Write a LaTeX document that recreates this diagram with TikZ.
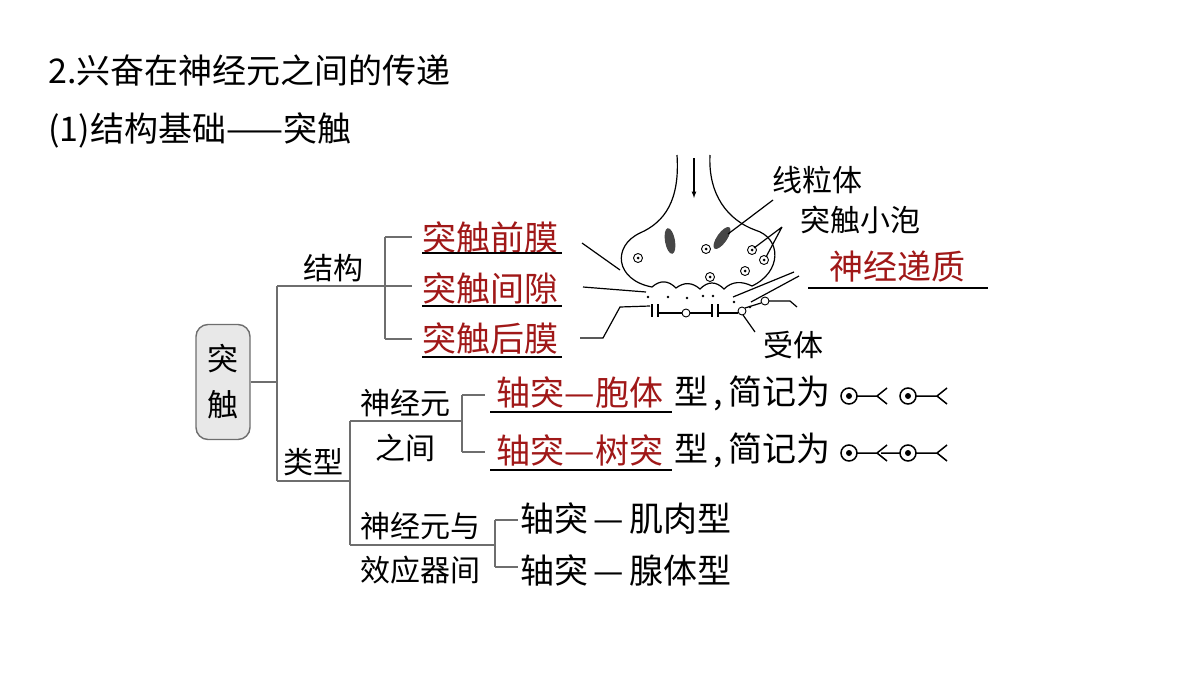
\documentclass[tikz,border=0pt]{standalone}
\usepackage{fontspec}
\setmainfont{Liberation Serif}
\newfontfamily\cjk{Noto Sans CJK SC}
\usetikzlibrary{positioning,calc,patterns}
\definecolor{keyColor}{HTML}{A01818}
\definecolor{lineColor}{HTML}{6E6E6E}
\tikzset{
	txt/.style={inner sep=0, font=\cjk\fontsize{30}{30}\selectfont},
	big/.style={inner sep=0, font=\cjk\fontsize{34}{34}\selectfont},
	key/.style={big, text=keyColor},
	tree/.style={draw=lineColor, line width=1.6pt},
	thin/.style={draw, line width=1.2pt},
	ves/.style={draw, line width=0.9pt, fill=white},
	sym/.style={draw, line width=1.5pt}
}
\newcommand{\dotc}[1]{\draw[sym] (#1) circle (8pt); \fill (#1) circle (3pt);}

\begin{document}
\begin{tikzpicture}[x=1pt, y=-1pt]
				\useasboundingbox (0,0) rectangle (1200,675);
				\node[big, anchor=west] (t1) at (48,70) {2.兴奋在神经元之间的传递};
				\node[big, anchor=west] (t2) at (48,130) {(1)结构基础——突触};
				
				% root and tree
				\node[draw=lineColor, line width=1.4pt, fill=gray!18, rounded corners=12pt, minimum width=54, minimum height=115, align=center, inner sep=0, font=\cjk\fontsize{31}{46}\selectfont] (root) at (223,382) {突\\触};
				\node[txt] (jg) at (333,268) {结构};
				\node[txt] (lx) at (313,462) {类型};
				\node[txt] (sj1) at (405,403) {神经元};
				\node[txt] (sj2) at (405,448) {之间};
				\node[txt] (xy1) at (420,526) {神经元与};
				\node[txt] (xy2) at (420,570) {效应器间};
				\node[key] (qm) at (490,237) {突触前膜};
				\node[key] (jx) at (490,288) {突触间隙};
				\node[key] (hm) at (490,338) {突触后膜};
				\node[key] (zb) at (580,393) {轴突—胞体};
				\node[key] (zs) at (580,450) {轴突—树突};
				\node[big, anchor=west] (xb) at (674,393) {型\,,\,简记为};
				\node[big, anchor=west] (xs) at (674,450) {型\,,\,简记为};
				\node[big, anchor=west] (jr) at (520,519) {轴突\,—\,肌肉型};
				\node[big, anchor=west] (xt) at (520,570) {轴突\,—\,腺体型};
				
				\draw[tree] (root.east) -- (277,382);
				\draw[tree] (277,286) -- (277,481);
				\draw[tree] (277,286) -- (385,286) (385,237) -- (385,339);
				\draw[tree] (385,237) -- (412,237) (385,286) -- (412,286) (385,339) -- (412,339);
				\draw[tree] (277,481) -- (350,481) (350,421) -- (350,545);
				\draw[tree] (350,421) -- (462,421) (462,395) -- (462,452);
				\draw[tree] (462,395) -- (485,395) (462,452) -- (485,452);
				\draw[tree] (350,545) -- (495,545) (495,520) -- (495,567);
				\draw[tree] (495,520) -- (518,520) (495,567) -- (518,567);
				
				% underlines
				\foreach \y in {253,306,357} \draw[thin] (422,\y) -- (562,\y);
				\draw[thin] (490,412) -- (672,412);
				\draw[thin] (490,470) -- (672,470);
				
				% short notation
				\dotc{849,396} \draw[sym] (857,396) -- (877,396) (887,388) -- (877,396) -- (887,404);
				\dotc{908,396} \draw[sym] (916,396) -- (937,396) (947,388) -- (937,396) -- (947,404);
				\dotc{849,453} \draw[sym] (857,453) -- (877,453) (887,445) -- (877,453) -- (887,461) (881,453) -- (900,453);
				\dotc{908,453} \draw[sym] (916,453) -- (937,453) (947,445) -- (937,453) -- (947,461);
				
				% synapse
				\node[txt] (xlt) at (817,180) {线粒体};
				\node[txt] (xp) at (860,220) {突触小泡};
				\node[key] (dz) at (897,267) {神经递质};
				\node[txt] (st) at (793,345) {受体};
				\draw[thin] (808,288) -- (988,288);
				\draw[thin] (677,155) .. controls (680,200) and (665,222) .. (640,233)
					.. controls (612,246) and (615,280) .. (652,287)
					.. controls (660,280) and (668,280) .. (676,288)
					.. controls (684,282) and (692,282) .. (700,289)
					.. controls (708,281) and (716,281) .. (724,289)
					.. controls (732,281) and (742,281) .. (752,286)
					.. controls (782,272) and (782,238) .. (755,230)
					.. controls (728,220) and (708,195) .. (710,155);
				\draw[thin, -{latex}] (694,158) -- (694,198);
				\fill[gray!55!black, rotate around={10:(670,241)}] (670,241) ellipse (5pt and 13pt);
				\fill[gray!55!black, rotate around={-35:(722,238)}] (722,238) ellipse (5pt and 13pt);
				\foreach \p in {(638,258),(706,249),(752,250),(764,260),(745,271),(710,277)}
					{\draw[ves] \p circle (4.5pt); \fill \p circle (1.5pt);}
				\draw[thin] (773,200) -- (728,234);
				\draw[thin] (782,227) -- (754,248) (782,227) -- (766,257);
				\draw[thin] (794,272) -- (733,297) (799,276) -- (751,302);
				\draw[thin] (582,243) -- (620,270);
				\draw[thin] (583,287) -- (646,292);
				\draw[thin] (580,338) -- (603,338) -- (620,307) -- (650,306);
				\foreach \p in {(648,297),(668,297),(687,298),(703,296),(713,296),(734,302),(750,307)}
					\fill \p circle (1.4pt);
				\draw[thin] (652,304) -- (652,317) (658,304) -- (658,317);
				\draw[thin] (658,313) -- (682,313) (690,313) -- (712,313);
				\draw[ves] (686,313) circle (4pt);
				\draw[thin] (712,304) -- (712,317) (718,304) -- (718,317);
				\draw[thin] (718,313) -- (738,313);
				\draw[ves] (742,311) circle (4pt);
				\draw[thin] (745,308) -- (761,303);
				\draw[ves] (765,301) circle (4pt);
				\draw[thin] (769,301) -- (790,301) -- (797,307);
				\draw[thin] (743,315) -- (755,332);
			\end{tikzpicture}
\end{document}
